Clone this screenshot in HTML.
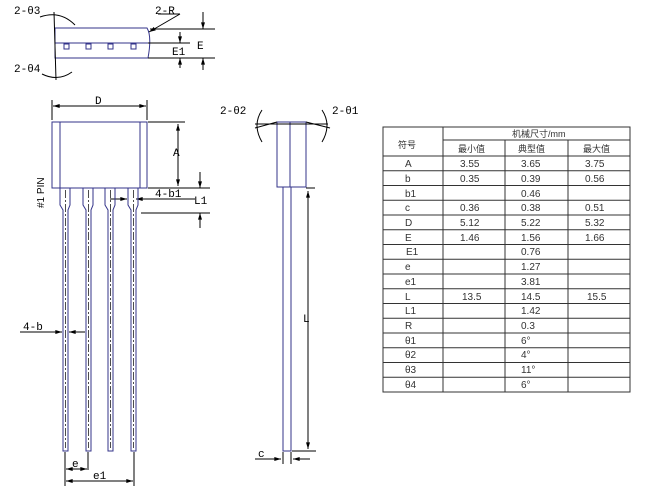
<!DOCTYPE html>
<html><head><meta charset="utf-8"><style>
html,body{margin:0;padding:0;background:#fff;}
svg{display:block;font-family:"Liberation Mono","Liberation Sans",monospace;}
.t{font-family:"Liberation Sans","Noto Sans CJK SC",sans-serif;font-size:10px;fill:#333;}
</style></head><body>
<svg width="650" height="488" viewBox="0 0 650 488" xmlns="http://www.w3.org/2000/svg">
<defs>
<marker id="a" viewBox="0 0 10 6" refX="10" refY="3" markerWidth="7" markerHeight="4" orient="auto-start-reverse"><path d="M0,0L10,3L0,6z" fill="#000"/></marker>
</defs>
<g stroke="#000" stroke-width="1" fill="none">
<path d="M55,28H147Q152,36 148,58H55Z" stroke="#33338a"/>
<line x1="55" y1="43" x2="148" y2="43" stroke="#33338a"/>
<rect x="64" y="44" width="5" height="5" stroke="#33338a"/>
<rect x="86" y="44" width="5" height="5" stroke="#33338a"/>
<rect x="108" y="44" width="5" height="5" stroke="#33338a"/>
<rect x="131" y="44" width="5" height="5" stroke="#33338a"/>
<line x1="54" y1="12" x2="56" y2="80"/>
<path d="M40,17Q60,10 75,25"/><path d="M42,74Q58,82 72,72"/>
<line x1="150" y1="29" x2="215" y2="29"/><line x1="148" y1="43" x2="190" y2="43"/><line x1="148" y1="58" x2="215" y2="58"/>
<line x1="180" y1="32" x2="180" y2="43" marker-end="url(#a)"/><line x1="180" y1="68" x2="180" y2="58" marker-end="url(#a)"/>
<line x1="203" y1="12" x2="203" y2="29" marker-end="url(#a)"/><line x1="203" y1="70" x2="203" y2="58" marker-end="url(#a)"/>
<line x1="180" y1="14" x2="149" y2="32" marker-end="url(#a)"/><line x1="158" y1="14" x2="180" y2="14"/>
<rect x="52" y="122" width="95" height="66" stroke="#33338a"/>
<line x1="60" y1="122" x2="60" y2="188" stroke="#33338a"/><line x1="140" y1="122" x2="140" y2="188" stroke="#33338a"/>
<line x1="52" y1="100" x2="52" y2="120"/><line x1="147" y1="100" x2="147" y2="120"/>
<line x1="53" y1="106" x2="146" y2="106" marker-start="url(#a)" marker-end="url(#a)"/>
<line x1="148" y1="122" x2="185" y2="122"/><line x1="148" y1="188" x2="210" y2="188"/>
<line x1="178" y1="124" x2="178" y2="186" marker-start="url(#a)" marker-end="url(#a)"/>
<line x1="141" y1="213" x2="210" y2="213"/>
<line x1="200" y1="172" x2="200" y2="188" marker-end="url(#a)"/><line x1="200" y1="228" x2="200" y2="213" marker-end="url(#a)"/>
<line x1="110" y1="199" x2="127" y2="199" marker-end="url(#a)"/><line x1="150" y1="199" x2="136" y2="199" marker-end="url(#a)"/><line x1="150" y1="199" x2="195" y2="199"/>
<g stroke="#33338a">
<path d="M60,188V205L63,210V451H68V210L70,205V188"/>
<path d="M83,188V205L86,210V451H91V210L93,205V188"/>
<path d="M105,188V205L108,210V451H113V210L115,205V188"/>
<path d="M128,188V205L131,210V451H136V210L138,205V188"/>
</g>
<g stroke-dasharray="8,2,2,2" stroke-width="0.7">
<line x1="65.5" y1="190" x2="65.5" y2="448"/><line x1="88.5" y1="190" x2="88.5" y2="448"/><line x1="110.5" y1="190" x2="110.5" y2="448"/><line x1="133.5" y1="190" x2="133.5" y2="448"/>
</g>
<line x1="20" y1="332" x2="62" y2="332" marker-end="url(#a)"/><line x1="85" y1="332" x2="69" y2="332" marker-end="url(#a)"/>
<line x1="65" y1="452" x2="65" y2="486"/><line x1="88" y1="452" x2="88" y2="470"/><line x1="134" y1="452" x2="134" y2="486"/>
<line x1="66" y1="469" x2="87" y2="469" marker-start="url(#a)" marker-end="url(#a)"/>
<line x1="66" y1="481" x2="133" y2="481" marker-start="url(#a)" marker-end="url(#a)"/>
<rect x="277" y="122" width="29" height="65" stroke="#33338a"/>
<line x1="290" y1="122" x2="290" y2="187" stroke="#33338a"/>
<rect x="283" y="187" width="8" height="264" stroke="#33338a"/>
<line x1="255" y1="124" x2="328" y2="124"/><line x1="255" y1="128" x2="277" y2="122"/><line x1="306" y1="122" x2="330" y2="128"/>
<path d="M262,110Q252,125 262,142"/><path d="M322,110Q332,125 322,142"/>
<line x1="306" y1="188" x2="315" y2="188"/><line x1="292" y1="451" x2="316" y2="451"/>
<line x1="308" y1="191" x2="308" y2="449" marker-start="url(#a)" marker-end="url(#a)"/>
<line x1="255" y1="459" x2="281" y2="459" marker-end="url(#a)"/><line x1="310" y1="459" x2="293" y2="459" marker-end="url(#a)"/>
<line x1="283" y1="452" x2="283" y2="464"/><line x1="291" y1="452" x2="291" y2="464"/>
</g>
<g font-size="11" fill="#000">
<text x="14" y="14">2-θ3</text><text x="155" y="14">2-R</text><text x="14" y="72">2-θ4</text>
<text x="172" y="55">E1</text><text x="197" y="49">E</text>
<text x="95" y="104">D</text><text x="173" y="156">A</text><text x="194" y="204">L1</text><text x="155" y="197">4-b1</text>
<text x="23" y="330">4-b</text><text x="72" y="467">e</text><text x="93" y="479">e1</text>
<text x="220" y="114">2-θ2</text><text x="332" y="114">2-θ1</text>
<text x="303" y="322">L</text><text x="258" y="457">c</text>
<text transform="translate(44,208) rotate(-90)" font-size="10" font-family="Liberation Sans,sans-serif">#1 PIN</text>
</g>
<g stroke="#333" stroke-width="1" fill="none">
<rect x="383" y="127" width="247" height="265"/>
<line x1="443" y1="127" x2="443" y2="392"/><line x1="505" y1="140" x2="505" y2="392"/><line x1="568" y1="140" x2="568" y2="392"/>
<line x1="443" y1="140" x2="630" y2="140"/>
<line x1="383" y1="156" x2="630" y2="156"/>
<line x1="383" y1="170.75" x2="630" y2="170.75"/><line x1="383" y1="185.5" x2="630" y2="185.5"/><line x1="383" y1="200.25" x2="630" y2="200.25"/><line x1="383" y1="215" x2="630" y2="215"/><line x1="383" y1="229.75" x2="630" y2="229.75"/><line x1="383" y1="244.5" x2="630" y2="244.5"/><line x1="383" y1="259.25" x2="630" y2="259.25"/><line x1="383" y1="274" x2="630" y2="274"/><line x1="383" y1="288.75" x2="630" y2="288.75"/><line x1="383" y1="303.5" x2="630" y2="303.5"/><line x1="383" y1="318.25" x2="630" y2="318.25"/><line x1="383" y1="333" x2="630" y2="333"/><line x1="383" y1="347.75" x2="630" y2="347.75"/><line x1="383" y1="362.5" x2="630" y2="362.5"/><line x1="383" y1="377.25" x2="630" y2="377.25"/>
</g>
<g class="t">
<text x="398" y="148" font-size="9">符号</text>
<text x="512" y="137" font-size="9">机械尺寸/mm</text>
<text x="458" y="152" font-size="9">最小值</text><text x="518" y="152" font-size="9">典型值</text><text x="583" y="152" font-size="9">最大值</text>
<text x="405" y="167">A</text><text x="460" y="167">3.55</text><text x="521" y="167">3.65</text><text x="585" y="167">3.75</text>
<text x="405" y="182">b</text><text x="460" y="182">0.35</text><text x="521" y="182">0.39</text><text x="585" y="182">0.56</text>
<text x="405" y="197">b1</text><text x="521" y="197">0.46</text>
<text x="405" y="211">c</text><text x="460" y="211">0.36</text><text x="521" y="211">0.38</text><text x="585" y="211">0.51</text>
<text x="405" y="226">D</text><text x="460" y="226">5.12</text><text x="521" y="226">5.22</text><text x="585" y="226">5.32</text>
<text x="405" y="241">E</text><text x="460" y="241">1.46</text><text x="521" y="241">1.56</text><text x="585" y="241">1.66</text>
<text x="406" y="255">E1</text><text x="521" y="255">0.76</text>
<text x="405" y="270">e</text><text x="521" y="270">1.27</text>
<text x="405" y="285">e1</text><text x="521" y="285">3.81</text>
<text x="405" y="300">L</text><text x="462" y="300">13.5</text><text x="521" y="300">14.5</text><text x="587" y="300">15.5</text>
<text x="405" y="314">L1</text><text x="521" y="314">1.42</text>
<text x="405" y="329">R</text><text x="521" y="329">0.3</text>
<text x="405" y="344">θ1</text><text x="521" y="344">6°</text>
<text x="405" y="358">θ2</text><text x="521" y="358">4°</text>
<text x="405" y="373">θ3</text><text x="521" y="373">11°</text>
<text x="405" y="388">θ4</text><text x="521" y="388">6°</text>
</g>
</svg>
</body></html>
